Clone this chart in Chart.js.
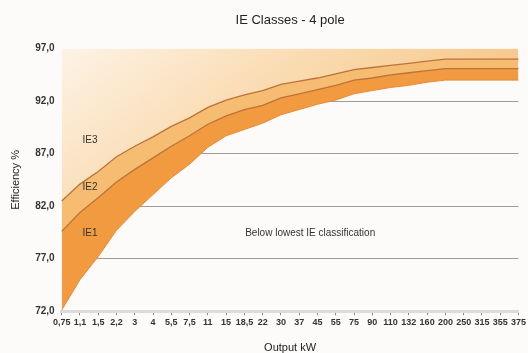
<!DOCTYPE html>
<html>
<head>
<meta charset="utf-8">
<script src="https://cdn.jsdelivr.net/npm/chart.js@4.4.1/dist/chart.umd.min.js"></script>
<style>
html,body{margin:0;padding:0;background:#fcfbf9;overflow:hidden;}
#wrap{width:528px;height:353px;position:relative;}
</style>
</head>
<body>
<div id="wrap"><canvas id="c" width="528" height="353"></canvas></div>
<script>
const categories = ['0,75','1,1','1,5','2,2','3','4','5,5','7,5','11','15','18,5','22','30','37','45','55','75','90','110','132','160','200','250','315','355','375'];
const ie1 = [72.1,75.0,77.2,79.7,81.5,83.1,84.7,86.0,87.6,88.7,89.3,89.9,90.7,91.2,91.7,92.1,92.7,93.0,93.3,93.5,93.8,94.0,94.0,94.0,94.0,94.0];
const ie2 = [79.6,81.4,82.8,84.3,85.5,86.6,87.7,88.7,89.8,90.6,91.2,91.6,92.3,92.7,93.1,93.5,94.0,94.2,94.5,94.7,94.9,95.1,95.1,95.1,95.1,95.1];
const ie3 = [82.5,84.1,85.3,86.7,87.7,88.6,89.6,90.4,91.4,92.1,92.6,93.0,93.6,93.9,94.2,94.6,95.0,95.2,95.4,95.6,95.8,96.0,96.0,96.0,96.0,96.0];
const yTicks = [72,77,82,87,92,97];
const labels = [
  {text:'IE3', x:1.55, y:88.3, align:'center'},
  {text:'IE2', x:1.55, y:83.8, align:'center'},
  {text:'IE1', x:1.55, y:79.4, align:'center'},
  {text:'Below lowest IE classification', x:13.6, y:79.4, align:'center'}
];

const FONT = "'Liberation Sans', Arial, Helvetica, sans-serif";

function topGradient(ctx) {
  const ch = ctx.chart, a = ch.chartArea;
  if (!a) return '#fbe3c4';
  const g = ch.ctx.createLinearGradient(a.left, a.top, a.left + (a.right - a.left) * 0.45, a.bottom);
  g.addColorStop(0, '#fdf3e6');
  g.addColorStop(0.45, '#fadcb3');
  g.addColorStop(1, '#f6c27f');
  return g;
}

const textPlugin = {
  id: 'textPlugin',
  afterDatasetsDraw(chart) {
    const c = chart.ctx, xs = chart.scales.x, ys = chart.scales.y;
    c.save();
    c.font = '10px ' + FONT;
    c.fillStyle = '#333';
    c.textBaseline = 'middle';
    labels.forEach(l => {
      c.textAlign = l.align;
      c.fillText(l.text, xs.getPixelForValue(l.x), ys.getPixelForValue(l.y));
    });
    c.restore();
  }
};

new Chart(document.getElementById('c'), {
  type: 'line',
  data: {
    labels: categories,
    datasets: [
      {label:'IE3', data: ie3, fill: 'end', backgroundColor: topGradient, borderColor: '#bb733a', borderWidth: 1.3, pointRadius: 0, tension: 0},
      {label:'IE2', data: ie2, fill: '-1', backgroundColor: '#f6bd72', borderColor: '#bb733a', borderWidth: 1.3, pointRadius: 0, tension: 0},
      {label:'IE1', data: ie1, fill: '-1', backgroundColor: '#f29a40', borderColor: '#e58c38', borderWidth: 1, pointRadius: 0, tension: 0}
    ]
  },
  options: {
    responsive: false,
    animation: false,
    devicePixelRatio: 1,
    layout: {padding: {left: 9, right: 0, top: 6, bottom: 0}},
    plugins: {
      legend: {display: false},
      tooltip: {enabled: false},
      title: {
        display: true,
        text: 'IE Classes - 4 pole',
        fullSize: false,
        color: '#222',
        font: {family: FONT, size: 13, weight: 'normal'},
        padding: {top: 7, bottom: 20}
      }
    },
    scales: {
      x: {
        offset: false,
        grid: {drawOnChartArea: false, drawTicks: true, tickLength: 4, color: '#8a8a8a', lineWidth: 1},
        border: {display: true, color: '#dcdcdc', width: 3},
        ticks: {autoSkip: false, maxRotation: 0, minRotation: 0, padding: 2, color: '#333', font: {family: FONT, size: 9, weight: 'bold'}},
        title: {display: true, text: 'Output kW', color: '#222', font: {family: FONT, size: 11, weight: 'normal', lineHeight: 1}, padding: {top: 12, bottom: 0}}
      },
      y: {
        z: 1,
        min: 72, max: 97,
        afterBuildTicks: (s) => { s.ticks = yTicks.map(v => ({value: v})); },
        grid: {
          drawTicks: false,
          color: (ctx) => (ctx.tick && (ctx.tick.value === 72 || ctx.tick.value === 97)) ? 'rgba(0,0,0,0)' : 'rgba(120,115,105,0.7)',
          lineWidth: 1
        },
        border: {display: false},
        ticks: {padding: 7, color: '#333', font: {family: FONT, size: 10, weight: 'bold'}, callback: (v) => Number(v).toFixed(1).replace('.', ',')},
        title: {display: true, text: 'Efficiency %', color: '#222', font: {family: FONT, size: 11, weight: 'normal'}, padding: {top: 0, bottom: 6}}
      }
    }
  },
  plugins: [textPlugin]
});
</script>
</body>
</html>
